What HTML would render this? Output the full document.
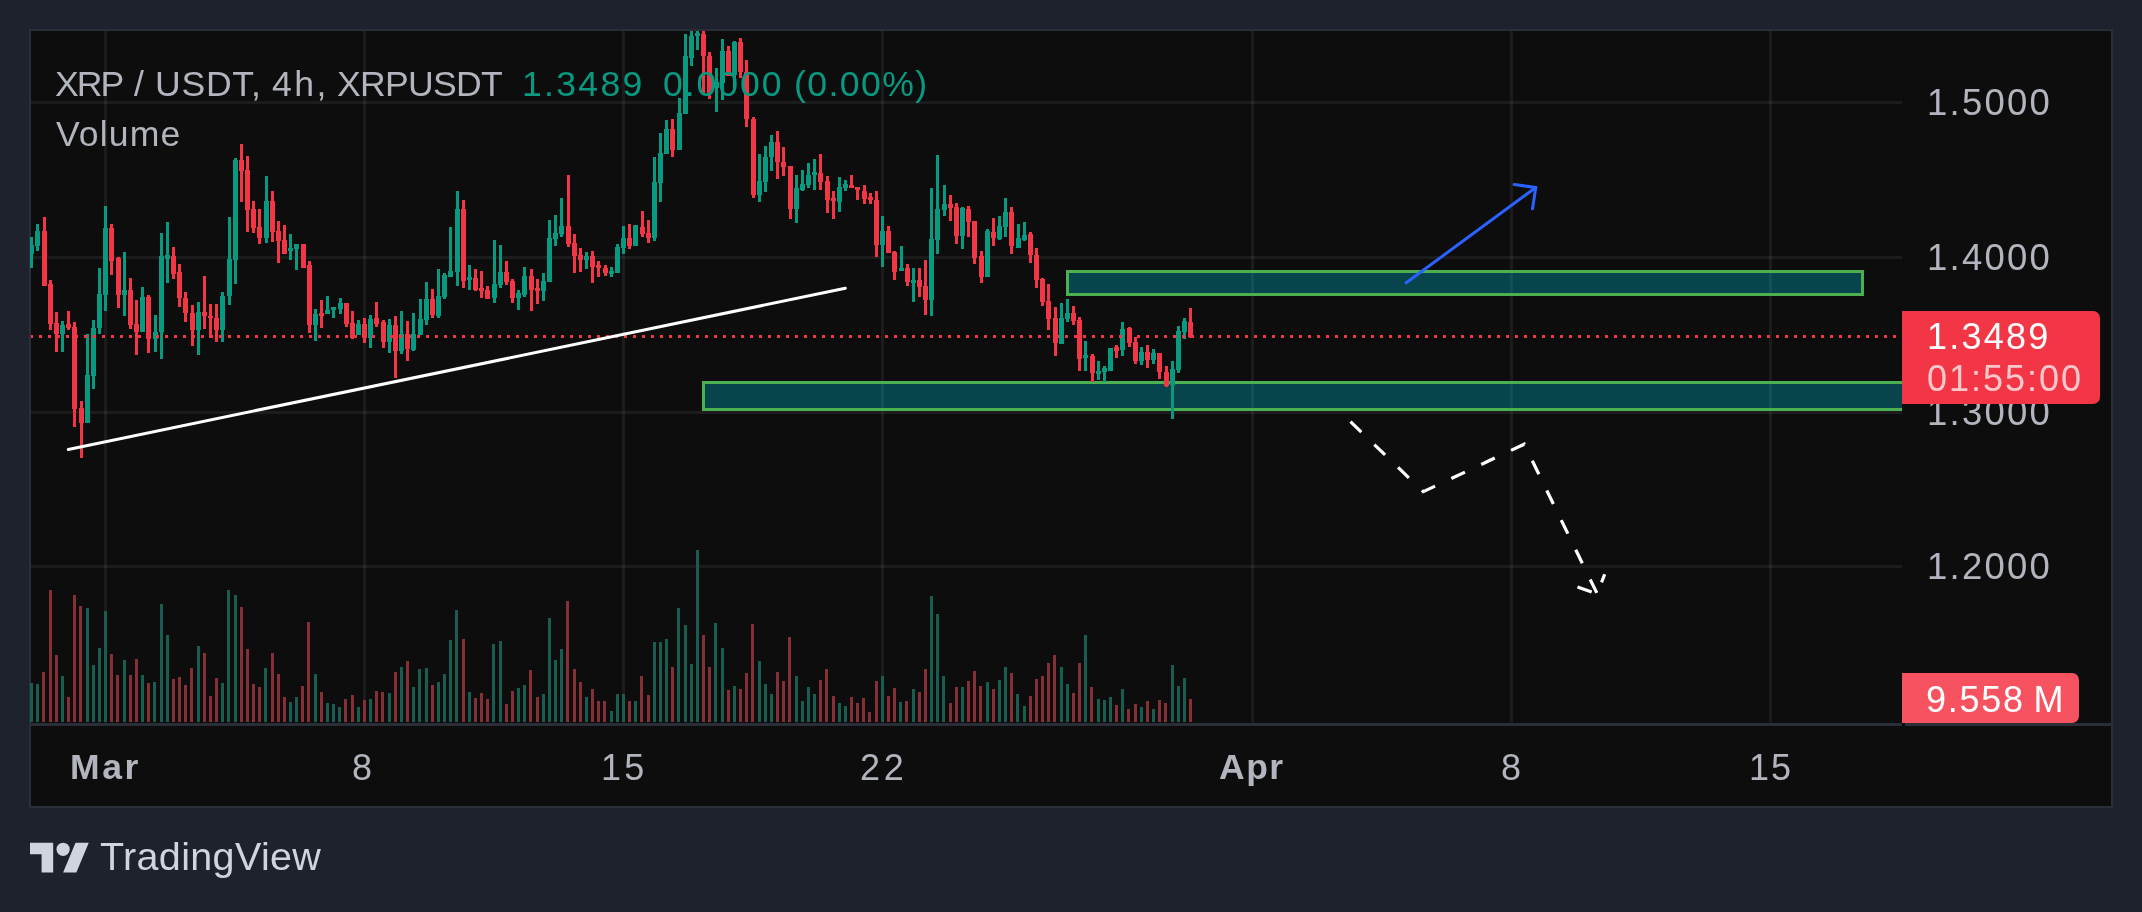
<!DOCTYPE html>
<html><head><meta charset="utf-8"><title>XRP / USDT chart</title>
<style>
html,body{margin:0;padding:0;background:#1e222d;}
body{width:2142px;height:912px;position:relative;overflow:hidden;font-family:"Liberation Sans",sans-serif;}
.frame{position:absolute;left:29px;top:29px;width:2084px;height:779px;background:#2a2e39;}
.chart{position:absolute;left:31px;top:31px;width:2080px;height:775px;background:#0d0d0d;overflow:hidden;}
svg{position:absolute;left:-31px;top:-31px;}
.t{position:absolute;white-space:pre;will-change:transform;line-height:1;color:#b2b5be;}
.sep{position:absolute;left:31px;top:722.5px;width:2081px;height:3px;background:#2a2e39;}
.plabel{position:absolute;left:1902px;top:311px;width:198px;height:93px;background:#f23645;border-radius:0 7px 7px 0;}
.vlabel{position:absolute;left:1902px;top:673px;width:177px;height:50px;background:#f7525f;border-radius:0 7px 7px 0;}
</style></head><body>
<div class="frame"></div>
<div class="chart"><svg width="2142" height="912" viewBox="0 0 2142 912" shape-rendering="auto">
<rect x="104.0" y="31" width="3" height="691.5" fill="rgba(235,250,242,0.062)"/>
<rect x="363.0" y="31" width="3" height="691.5" fill="rgba(235,250,242,0.062)"/>
<rect x="622.0" y="31" width="3" height="691.5" fill="rgba(235,250,242,0.062)"/>
<rect x="881.0" y="31" width="3" height="691.5" fill="rgba(235,250,242,0.062)"/>
<rect x="1251.0" y="31" width="3" height="691.5" fill="rgba(235,250,242,0.062)"/>
<rect x="1510.0" y="31" width="3" height="691.5" fill="rgba(235,250,242,0.062)"/>
<rect x="1769.0" y="31" width="3" height="691.5" fill="rgba(235,250,242,0.062)"/>
<rect x="31" y="101.0" width="1871" height="3" fill="rgba(235,250,242,0.062)"/>
<rect x="31" y="256.0" width="1871" height="3" fill="rgba(235,250,242,0.062)"/>
<rect x="31" y="411.0" width="1871" height="3" fill="rgba(235,250,242,0.062)"/>
<rect x="31" y="565.0" width="1871" height="3" fill="rgba(235,250,242,0.062)"/>
<rect x="1066" y="270" width="798" height="26" fill="rgba(0,188,212,0.32)"/>
<rect x="1067.5" y="271.5" width="795" height="23" fill="none" stroke="#4caf50" stroke-width="3"/>
<rect x="702" y="381" width="1200" height="30" fill="rgba(0,188,212,0.32)"/>
<path d="M1902 382.5 H703.5 V409.5 H1902" fill="none" stroke="#4caf50" stroke-width="3"/>
<rect x="30.00" y="683" width="3" height="39" fill="#195d50"/>
<rect x="36.00" y="684" width="3" height="38" fill="#195d50"/>
<rect x="42.00" y="672" width="3" height="50" fill="#853037"/>
<rect x="49.00" y="590" width="3" height="132" fill="#853037"/>
<rect x="55.00" y="655" width="3" height="67" fill="#853037"/>
<rect x="61.00" y="676" width="3" height="46" fill="#195d50"/>
<rect x="67.00" y="697" width="3" height="25" fill="#853037"/>
<rect x="73.00" y="595" width="3" height="127" fill="#853037"/>
<rect x="79.00" y="606" width="3" height="116" fill="#853037"/>
<rect x="86.00" y="608" width="3" height="114" fill="#195d50"/>
<rect x="92.00" y="665" width="3" height="57" fill="#195d50"/>
<rect x="98.00" y="648" width="3" height="74" fill="#195d50"/>
<rect x="104.00" y="611" width="3" height="111" fill="#195d50"/>
<rect x="110.00" y="654" width="3" height="68" fill="#853037"/>
<rect x="116.00" y="675" width="3" height="47" fill="#853037"/>
<rect x="123.00" y="660" width="3" height="62" fill="#195d50"/>
<rect x="129.00" y="675" width="3" height="47" fill="#853037"/>
<rect x="135.00" y="659" width="3" height="63" fill="#853037"/>
<rect x="141.00" y="675" width="3" height="47" fill="#195d50"/>
<rect x="147.00" y="683" width="3" height="39" fill="#853037"/>
<rect x="153.00" y="682" width="3" height="40" fill="#195d50"/>
<rect x="160.00" y="604" width="3" height="118" fill="#195d50"/>
<rect x="166.00" y="635" width="3" height="87" fill="#195d50"/>
<rect x="172.00" y="679" width="3" height="43" fill="#853037"/>
<rect x="178.00" y="677" width="3" height="45" fill="#853037"/>
<rect x="184.00" y="685" width="3" height="37" fill="#853037"/>
<rect x="190.00" y="668" width="3" height="54" fill="#853037"/>
<rect x="197.00" y="646" width="3" height="76" fill="#195d50"/>
<rect x="203.00" y="653" width="3" height="69" fill="#853037"/>
<rect x="209.00" y="696" width="3" height="26" fill="#853037"/>
<rect x="215.00" y="678" width="3" height="44" fill="#853037"/>
<rect x="221.00" y="683" width="3" height="39" fill="#195d50"/>
<rect x="227.00" y="590" width="3" height="132" fill="#195d50"/>
<rect x="234.00" y="595" width="3" height="127" fill="#195d50"/>
<rect x="240.00" y="607" width="3" height="115" fill="#853037"/>
<rect x="246.00" y="649" width="3" height="73" fill="#853037"/>
<rect x="252.00" y="684" width="3" height="38" fill="#853037"/>
<rect x="258.00" y="687" width="3" height="35" fill="#853037"/>
<rect x="264.00" y="668" width="3" height="54" fill="#195d50"/>
<rect x="271.00" y="653" width="3" height="69" fill="#853037"/>
<rect x="277.00" y="674" width="3" height="48" fill="#853037"/>
<rect x="283.00" y="697" width="3" height="25" fill="#853037"/>
<rect x="289.00" y="702" width="3" height="20" fill="#195d50"/>
<rect x="295.00" y="697" width="3" height="25" fill="#195d50"/>
<rect x="301.00" y="686" width="3" height="36" fill="#853037"/>
<rect x="307.00" y="622" width="3" height="100" fill="#853037"/>
<rect x="314.00" y="674" width="3" height="48" fill="#195d50"/>
<rect x="320.00" y="692" width="3" height="30" fill="#853037"/>
<rect x="326.00" y="703" width="3" height="19" fill="#195d50"/>
<rect x="332.00" y="704" width="3" height="18" fill="#195d50"/>
<rect x="338.00" y="707" width="3" height="15" fill="#195d50"/>
<rect x="344.00" y="699" width="3" height="23" fill="#853037"/>
<rect x="351.00" y="695" width="3" height="27" fill="#853037"/>
<rect x="357.00" y="707" width="3" height="15" fill="#195d50"/>
<rect x="363.00" y="700" width="3" height="22" fill="#853037"/>
<rect x="369.00" y="699" width="3" height="23" fill="#195d50"/>
<rect x="375.00" y="691" width="3" height="31" fill="#853037"/>
<rect x="381.00" y="692" width="3" height="30" fill="#853037"/>
<rect x="388.00" y="693" width="3" height="29" fill="#195d50"/>
<rect x="394.00" y="672" width="3" height="50" fill="#853037"/>
<rect x="400.00" y="667" width="3" height="55" fill="#195d50"/>
<rect x="406.00" y="661" width="3" height="61" fill="#853037"/>
<rect x="412.00" y="687" width="3" height="35" fill="#195d50"/>
<rect x="418.00" y="669" width="3" height="53" fill="#195d50"/>
<rect x="425.00" y="668" width="3" height="54" fill="#195d50"/>
<rect x="431.00" y="685" width="3" height="37" fill="#853037"/>
<rect x="437.00" y="682" width="3" height="40" fill="#195d50"/>
<rect x="443.00" y="674" width="3" height="48" fill="#195d50"/>
<rect x="449.00" y="640" width="3" height="82" fill="#195d50"/>
<rect x="455.00" y="610" width="3" height="112" fill="#195d50"/>
<rect x="462.00" y="639" width="3" height="83" fill="#853037"/>
<rect x="468.00" y="692" width="3" height="30" fill="#195d50"/>
<rect x="474.00" y="698" width="3" height="24" fill="#853037"/>
<rect x="480.00" y="693" width="3" height="29" fill="#853037"/>
<rect x="486.00" y="699" width="3" height="23" fill="#853037"/>
<rect x="492.00" y="644" width="3" height="78" fill="#195d50"/>
<rect x="499.00" y="641" width="3" height="81" fill="#195d50"/>
<rect x="505.00" y="704" width="3" height="18" fill="#853037"/>
<rect x="511.00" y="691" width="3" height="31" fill="#853037"/>
<rect x="517.00" y="688" width="3" height="34" fill="#195d50"/>
<rect x="523.00" y="685" width="3" height="37" fill="#195d50"/>
<rect x="529.00" y="670" width="3" height="52" fill="#853037"/>
<rect x="536.00" y="697" width="3" height="25" fill="#853037"/>
<rect x="542.00" y="694" width="3" height="28" fill="#195d50"/>
<rect x="548.00" y="618" width="3" height="104" fill="#195d50"/>
<rect x="554.00" y="660" width="3" height="62" fill="#195d50"/>
<rect x="560.00" y="649" width="3" height="73" fill="#195d50"/>
<rect x="566.00" y="601" width="3" height="121" fill="#853037"/>
<rect x="573.00" y="669" width="3" height="53" fill="#853037"/>
<rect x="579.00" y="682" width="3" height="40" fill="#853037"/>
<rect x="585.00" y="697" width="3" height="25" fill="#195d50"/>
<rect x="591.00" y="689" width="3" height="33" fill="#853037"/>
<rect x="597.00" y="701" width="3" height="21" fill="#853037"/>
<rect x="603.00" y="701" width="3" height="21" fill="#853037"/>
<rect x="610.00" y="711" width="3" height="11" fill="#195d50"/>
<rect x="616.00" y="694" width="3" height="28" fill="#195d50"/>
<rect x="622.00" y="694" width="3" height="28" fill="#195d50"/>
<rect x="628.00" y="701" width="3" height="21" fill="#853037"/>
<rect x="634.00" y="701" width="3" height="21" fill="#195d50"/>
<rect x="640.00" y="676" width="3" height="46" fill="#853037"/>
<rect x="647.00" y="695" width="3" height="27" fill="#853037"/>
<rect x="653.00" y="642" width="3" height="80" fill="#195d50"/>
<rect x="659.00" y="642" width="3" height="80" fill="#195d50"/>
<rect x="665.00" y="639" width="3" height="83" fill="#195d50"/>
<rect x="671.00" y="667" width="3" height="55" fill="#853037"/>
<rect x="677.00" y="608" width="3" height="114" fill="#195d50"/>
<rect x="684.00" y="625" width="3" height="97" fill="#195d50"/>
<rect x="690.00" y="664" width="3" height="58" fill="#195d50"/>
<rect x="696.00" y="550" width="3" height="172" fill="#195d50"/>
<rect x="702.00" y="635" width="3" height="87" fill="#853037"/>
<rect x="708.00" y="667" width="3" height="55" fill="#853037"/>
<rect x="714.00" y="623" width="3" height="99" fill="#195d50"/>
<rect x="721.00" y="648" width="3" height="74" fill="#195d50"/>
<rect x="727.00" y="690" width="3" height="32" fill="#853037"/>
<rect x="733.00" y="686" width="3" height="36" fill="#195d50"/>
<rect x="739.00" y="689" width="3" height="33" fill="#853037"/>
<rect x="745.00" y="673" width="3" height="49" fill="#853037"/>
<rect x="751.00" y="624" width="3" height="98" fill="#853037"/>
<rect x="758.00" y="661" width="3" height="61" fill="#195d50"/>
<rect x="764.00" y="684" width="3" height="38" fill="#195d50"/>
<rect x="770.00" y="694" width="3" height="28" fill="#195d50"/>
<rect x="776.00" y="672" width="3" height="50" fill="#853037"/>
<rect x="782.00" y="681" width="3" height="41" fill="#853037"/>
<rect x="788.00" y="637" width="3" height="85" fill="#853037"/>
<rect x="795.00" y="676" width="3" height="46" fill="#195d50"/>
<rect x="801.00" y="701" width="3" height="21" fill="#195d50"/>
<rect x="807.00" y="687" width="3" height="35" fill="#195d50"/>
<rect x="813.00" y="694" width="3" height="28" fill="#195d50"/>
<rect x="819.00" y="680" width="3" height="42" fill="#853037"/>
<rect x="825.00" y="669" width="3" height="53" fill="#853037"/>
<rect x="832.00" y="696" width="3" height="26" fill="#853037"/>
<rect x="838.00" y="703" width="3" height="19" fill="#195d50"/>
<rect x="844.00" y="706" width="3" height="16" fill="#195d50"/>
<rect x="850.00" y="697" width="3" height="25" fill="#853037"/>
<rect x="856.00" y="703" width="3" height="19" fill="#853037"/>
<rect x="862.00" y="698" width="3" height="24" fill="#853037"/>
<rect x="868.00" y="712" width="3" height="10" fill="#853037"/>
<rect x="875.00" y="681" width="3" height="41" fill="#853037"/>
<rect x="881.00" y="676" width="3" height="46" fill="#195d50"/>
<rect x="887.00" y="696" width="3" height="26" fill="#853037"/>
<rect x="893.00" y="688" width="3" height="34" fill="#853037"/>
<rect x="899.00" y="702" width="3" height="20" fill="#195d50"/>
<rect x="905.00" y="701" width="3" height="21" fill="#853037"/>
<rect x="912.00" y="689" width="3" height="33" fill="#195d50"/>
<rect x="918.00" y="692" width="3" height="30" fill="#853037"/>
<rect x="924.00" y="669" width="3" height="53" fill="#853037"/>
<rect x="930.00" y="596" width="3" height="126" fill="#195d50"/>
<rect x="936.00" y="614" width="3" height="108" fill="#195d50"/>
<rect x="942.00" y="676" width="3" height="46" fill="#195d50"/>
<rect x="949.00" y="703" width="3" height="19" fill="#853037"/>
<rect x="955.00" y="687" width="3" height="35" fill="#853037"/>
<rect x="961.00" y="687" width="3" height="35" fill="#195d50"/>
<rect x="967.00" y="681" width="3" height="41" fill="#853037"/>
<rect x="973.00" y="671" width="3" height="51" fill="#853037"/>
<rect x="979.00" y="686" width="3" height="36" fill="#853037"/>
<rect x="986.00" y="682" width="3" height="40" fill="#195d50"/>
<rect x="992.00" y="689" width="3" height="33" fill="#853037"/>
<rect x="998.00" y="680" width="3" height="42" fill="#195d50"/>
<rect x="1004.00" y="667" width="3" height="55" fill="#195d50"/>
<rect x="1010.00" y="673" width="3" height="49" fill="#853037"/>
<rect x="1016.00" y="694" width="3" height="28" fill="#195d50"/>
<rect x="1023.00" y="706" width="3" height="16" fill="#195d50"/>
<rect x="1029.00" y="696" width="3" height="26" fill="#853037"/>
<rect x="1035.00" y="679" width="3" height="43" fill="#853037"/>
<rect x="1041.00" y="676" width="3" height="46" fill="#853037"/>
<rect x="1047.00" y="663" width="3" height="59" fill="#853037"/>
<rect x="1053.00" y="655" width="3" height="67" fill="#853037"/>
<rect x="1060.00" y="667" width="3" height="55" fill="#195d50"/>
<rect x="1066.00" y="684" width="3" height="38" fill="#195d50"/>
<rect x="1072.00" y="693" width="3" height="29" fill="#853037"/>
<rect x="1078.00" y="663" width="3" height="59" fill="#853037"/>
<rect x="1084.00" y="635" width="3" height="87" fill="#195d50"/>
<rect x="1090.00" y="687" width="3" height="35" fill="#853037"/>
<rect x="1097.00" y="699" width="3" height="23" fill="#195d50"/>
<rect x="1103.00" y="700" width="3" height="22" fill="#195d50"/>
<rect x="1109.00" y="697" width="3" height="25" fill="#195d50"/>
<rect x="1115.00" y="705" width="3" height="17" fill="#853037"/>
<rect x="1121.00" y="689" width="3" height="33" fill="#195d50"/>
<rect x="1127.00" y="709" width="3" height="13" fill="#853037"/>
<rect x="1134.00" y="704" width="3" height="18" fill="#853037"/>
<rect x="1140.00" y="707" width="3" height="15" fill="#195d50"/>
<rect x="1146.00" y="701" width="3" height="21" fill="#853037"/>
<rect x="1152.00" y="709" width="3" height="13" fill="#195d50"/>
<rect x="1158.00" y="700" width="3" height="22" fill="#853037"/>
<rect x="1164.00" y="703" width="3" height="19" fill="#853037"/>
<rect x="1171.00" y="665" width="3" height="57" fill="#195d50"/>
<rect x="1177.00" y="686" width="3" height="36" fill="#195d50"/>
<rect x="1183.00" y="678" width="3" height="44" fill="#195d50"/>
<rect x="1189.00" y="699" width="3" height="23" fill="#853037"/>
<rect x="30.00" y="237.0" width="3" height="31.0" fill="#089981"/>
<rect x="29.00" y="245.0" width="5" height="9.0" fill="#089981"/>
<rect x="36.00" y="224.0" width="3" height="27.0" fill="#089981"/>
<rect x="35.00" y="231.0" width="5" height="15.0" fill="#089981"/>
<rect x="43.00" y="217.0" width="3" height="69.0" fill="#f23645"/>
<rect x="42.00" y="231.0" width="5" height="55.0" fill="#f23645"/>
<rect x="49.00" y="280.0" width="3" height="50.0" fill="#f23645"/>
<rect x="48.00" y="284.0" width="5" height="40.0" fill="#f23645"/>
<rect x="55.00" y="312.0" width="3" height="40.0" fill="#f23645"/>
<rect x="54.00" y="323.0" width="5" height="11.0" fill="#f23645"/>
<rect x="61.00" y="321.0" width="3" height="31.0" fill="#089981"/>
<rect x="60.00" y="325.0" width="5" height="9.0" fill="#089981"/>
<rect x="67.00" y="311.0" width="3" height="19.0" fill="#f23645"/>
<rect x="66.00" y="324.0" width="5" height="4.0" fill="#f23645"/>
<rect x="73.00" y="322.0" width="3" height="105.0" fill="#f23645"/>
<rect x="72.00" y="327.0" width="5" height="82.0" fill="#f23645"/>
<rect x="80.00" y="401.0" width="3" height="57.0" fill="#f23645"/>
<rect x="79.00" y="408.0" width="5" height="15.0" fill="#f23645"/>
<rect x="86.00" y="334.0" width="3" height="89.0" fill="#089981"/>
<rect x="85.00" y="375.0" width="5" height="48.0" fill="#089981"/>
<rect x="92.00" y="320.0" width="3" height="69.0" fill="#089981"/>
<rect x="91.00" y="328.0" width="5" height="48.0" fill="#089981"/>
<rect x="98.00" y="268.0" width="3" height="66.0" fill="#089981"/>
<rect x="97.00" y="294.0" width="5" height="34.0" fill="#089981"/>
<rect x="104.00" y="206.0" width="3" height="105.0" fill="#089981"/>
<rect x="103.00" y="228.0" width="5" height="67.0" fill="#089981"/>
<rect x="110.00" y="224.0" width="3" height="51.0" fill="#f23645"/>
<rect x="109.00" y="228.0" width="5" height="33.0" fill="#f23645"/>
<rect x="117.00" y="257.0" width="3" height="51.0" fill="#f23645"/>
<rect x="116.00" y="258.0" width="5" height="37.0" fill="#f23645"/>
<rect x="123.00" y="252.0" width="3" height="64.0" fill="#089981"/>
<rect x="122.00" y="290.0" width="5" height="5.0" fill="#089981"/>
<rect x="129.00" y="278.0" width="3" height="51.0" fill="#f23645"/>
<rect x="128.00" y="290.0" width="5" height="35.0" fill="#f23645"/>
<rect x="135.00" y="300.0" width="3" height="55.0" fill="#f23645"/>
<rect x="134.00" y="324.0" width="5" height="8.0" fill="#f23645"/>
<rect x="141.00" y="287.0" width="3" height="45.0" fill="#089981"/>
<rect x="140.00" y="297.0" width="5" height="35.0" fill="#089981"/>
<rect x="147.00" y="295.0" width="3" height="58.0" fill="#f23645"/>
<rect x="146.00" y="297.0" width="5" height="42.0" fill="#f23645"/>
<rect x="154.00" y="315.0" width="3" height="37.0" fill="#089981"/>
<rect x="153.00" y="332.0" width="5" height="7.0" fill="#089981"/>
<rect x="160.00" y="233.0" width="3" height="126.0" fill="#089981"/>
<rect x="159.00" y="256.0" width="5" height="76.0" fill="#089981"/>
<rect x="166.00" y="222.0" width="3" height="61.0" fill="#089981"/>
<rect x="165.00" y="255.0" width="5" height="4.0" fill="#089981"/>
<rect x="172.00" y="247.0" width="3" height="32.0" fill="#f23645"/>
<rect x="171.00" y="256.0" width="5" height="18.0" fill="#f23645"/>
<rect x="178.00" y="264.0" width="3" height="43.0" fill="#f23645"/>
<rect x="177.00" y="272.0" width="5" height="26.0" fill="#f23645"/>
<rect x="184.00" y="292.0" width="3" height="30.0" fill="#f23645"/>
<rect x="183.00" y="298.0" width="5" height="15.0" fill="#f23645"/>
<rect x="191.00" y="305.0" width="3" height="41.0" fill="#f23645"/>
<rect x="190.00" y="313.0" width="5" height="17.0" fill="#f23645"/>
<rect x="197.00" y="302.0" width="3" height="53.0" fill="#089981"/>
<rect x="196.00" y="312.0" width="5" height="18.0" fill="#089981"/>
<rect x="203.00" y="276.0" width="3" height="53.0" fill="#f23645"/>
<rect x="202.00" y="312.0" width="5" height="4.0" fill="#f23645"/>
<rect x="209.00" y="304.0" width="3" height="34.0" fill="#f23645"/>
<rect x="208.00" y="316.0" width="5" height="2.0" fill="#f23645"/>
<rect x="215.00" y="304.0" width="3" height="38.0" fill="#f23645"/>
<rect x="214.00" y="318.0" width="5" height="12.0" fill="#f23645"/>
<rect x="221.00" y="292.0" width="3" height="50.0" fill="#089981"/>
<rect x="220.00" y="296.0" width="5" height="34.0" fill="#089981"/>
<rect x="228.00" y="217.0" width="3" height="88.0" fill="#089981"/>
<rect x="227.00" y="259.0" width="5" height="37.0" fill="#089981"/>
<rect x="234.00" y="158.0" width="3" height="126.0" fill="#089981"/>
<rect x="233.00" y="160.0" width="5" height="100.0" fill="#089981"/>
<rect x="240.00" y="144.0" width="3" height="58.0" fill="#f23645"/>
<rect x="239.00" y="160.0" width="5" height="11.0" fill="#f23645"/>
<rect x="246.00" y="156.0" width="3" height="76.0" fill="#f23645"/>
<rect x="245.00" y="170.0" width="5" height="40.0" fill="#f23645"/>
<rect x="252.00" y="201.0" width="3" height="32.0" fill="#f23645"/>
<rect x="251.00" y="209.0" width="5" height="19.0" fill="#f23645"/>
<rect x="258.00" y="209.0" width="3" height="35.0" fill="#f23645"/>
<rect x="257.00" y="227.0" width="5" height="11.0" fill="#f23645"/>
<rect x="265.00" y="176.0" width="3" height="67.0" fill="#089981"/>
<rect x="264.00" y="201.0" width="5" height="37.0" fill="#089981"/>
<rect x="271.00" y="191.0" width="3" height="51.0" fill="#f23645"/>
<rect x="270.00" y="201.0" width="5" height="31.0" fill="#f23645"/>
<rect x="277.00" y="221.0" width="3" height="42.0" fill="#f23645"/>
<rect x="276.00" y="231.0" width="5" height="10.0" fill="#f23645"/>
<rect x="283.00" y="225.0" width="3" height="29.0" fill="#f23645"/>
<rect x="282.00" y="240.0" width="5" height="14.0" fill="#f23645"/>
<rect x="289.00" y="234.0" width="3" height="26.0" fill="#089981"/>
<rect x="288.00" y="248.0" width="5" height="3.0" fill="#089981"/>
<rect x="295.00" y="244.0" width="3" height="26.0" fill="#089981"/>
<rect x="294.00" y="244.0" width="5" height="5.0" fill="#089981"/>
<rect x="302.00" y="244.0" width="3" height="24.0" fill="#f23645"/>
<rect x="301.00" y="244.0" width="5" height="24.0" fill="#f23645"/>
<rect x="308.00" y="261.0" width="3" height="72.0" fill="#f23645"/>
<rect x="307.00" y="265.0" width="5" height="60.0" fill="#f23645"/>
<rect x="314.00" y="309.0" width="3" height="32.0" fill="#089981"/>
<rect x="313.00" y="314.0" width="5" height="11.0" fill="#089981"/>
<rect x="320.00" y="300.0" width="3" height="28.0" fill="#f23645"/>
<rect x="319.00" y="313.0" width="5" height="3.0" fill="#f23645"/>
<rect x="326.00" y="296.0" width="3" height="18.0" fill="#089981"/>
<rect x="325.00" y="310.0" width="5" height="4.0" fill="#089981"/>
<rect x="332.00" y="307.0" width="3" height="11.0" fill="#089981"/>
<rect x="331.00" y="307.0" width="5" height="3.0" fill="#089981"/>
<rect x="339.00" y="298.0" width="3" height="16.0" fill="#089981"/>
<rect x="338.00" y="303.0" width="5" height="6.0" fill="#089981"/>
<rect x="345.00" y="303.0" width="3" height="24.0" fill="#f23645"/>
<rect x="344.00" y="303.0" width="5" height="21.0" fill="#f23645"/>
<rect x="351.00" y="311.0" width="3" height="28.0" fill="#f23645"/>
<rect x="350.00" y="323.0" width="5" height="15.0" fill="#f23645"/>
<rect x="357.00" y="320.0" width="3" height="15.0" fill="#089981"/>
<rect x="356.00" y="324.0" width="5" height="11.0" fill="#089981"/>
<rect x="363.00" y="318.0" width="3" height="25.0" fill="#f23645"/>
<rect x="362.00" y="324.0" width="5" height="14.0" fill="#f23645"/>
<rect x="369.00" y="315.0" width="3" height="33.0" fill="#089981"/>
<rect x="368.00" y="319.0" width="5" height="19.0" fill="#089981"/>
<rect x="375.00" y="302.0" width="3" height="25.0" fill="#f23645"/>
<rect x="374.00" y="318.0" width="5" height="6.0" fill="#f23645"/>
<rect x="382.00" y="320.0" width="3" height="28.0" fill="#f23645"/>
<rect x="381.00" y="322.0" width="5" height="20.0" fill="#f23645"/>
<rect x="388.00" y="319.0" width="3" height="34.0" fill="#089981"/>
<rect x="387.00" y="325.0" width="5" height="17.0" fill="#089981"/>
<rect x="394.00" y="316.0" width="3" height="62.0" fill="#f23645"/>
<rect x="393.00" y="325.0" width="5" height="26.0" fill="#f23645"/>
<rect x="400.00" y="311.0" width="3" height="43.0" fill="#089981"/>
<rect x="399.00" y="334.0" width="5" height="17.0" fill="#089981"/>
<rect x="406.00" y="321.0" width="3" height="40.0" fill="#f23645"/>
<rect x="405.00" y="334.0" width="5" height="15.0" fill="#f23645"/>
<rect x="412.00" y="313.0" width="3" height="38.0" fill="#089981"/>
<rect x="411.00" y="334.0" width="5" height="16.0" fill="#089981"/>
<rect x="419.00" y="299.0" width="3" height="36.0" fill="#089981"/>
<rect x="418.00" y="319.0" width="5" height="16.0" fill="#089981"/>
<rect x="425.00" y="282.0" width="3" height="43.0" fill="#089981"/>
<rect x="424.00" y="299.0" width="5" height="21.0" fill="#089981"/>
<rect x="431.00" y="289.0" width="3" height="29.0" fill="#f23645"/>
<rect x="430.00" y="299.0" width="5" height="16.0" fill="#f23645"/>
<rect x="437.00" y="269.0" width="3" height="49.0" fill="#089981"/>
<rect x="436.00" y="296.0" width="5" height="20.0" fill="#089981"/>
<rect x="443.00" y="273.0" width="3" height="26.0" fill="#089981"/>
<rect x="442.00" y="275.0" width="5" height="22.0" fill="#089981"/>
<rect x="449.00" y="227.0" width="3" height="50.0" fill="#089981"/>
<rect x="448.00" y="271.0" width="5" height="6.0" fill="#089981"/>
<rect x="456.00" y="191.0" width="3" height="95.0" fill="#089981"/>
<rect x="455.00" y="209.0" width="5" height="63.0" fill="#089981"/>
<rect x="462.00" y="200.0" width="3" height="88.0" fill="#f23645"/>
<rect x="461.00" y="209.0" width="5" height="72.0" fill="#f23645"/>
<rect x="468.00" y="265.0" width="3" height="25.0" fill="#089981"/>
<rect x="467.00" y="277.0" width="5" height="3.0" fill="#089981"/>
<rect x="474.00" y="269.0" width="3" height="22.0" fill="#f23645"/>
<rect x="473.00" y="278.0" width="5" height="12.0" fill="#f23645"/>
<rect x="480.00" y="271.0" width="3" height="27.0" fill="#f23645"/>
<rect x="479.00" y="288.0" width="5" height="3.0" fill="#f23645"/>
<rect x="486.00" y="286.0" width="3" height="13.0" fill="#f23645"/>
<rect x="485.00" y="290.0" width="5" height="9.0" fill="#f23645"/>
<rect x="493.00" y="240.0" width="3" height="63.0" fill="#089981"/>
<rect x="492.00" y="284.0" width="5" height="14.0" fill="#089981"/>
<rect x="499.00" y="245.0" width="3" height="43.0" fill="#089981"/>
<rect x="498.00" y="272.0" width="5" height="13.0" fill="#089981"/>
<rect x="505.00" y="261.0" width="3" height="24.0" fill="#f23645"/>
<rect x="504.00" y="272.0" width="5" height="10.0" fill="#f23645"/>
<rect x="511.00" y="279.0" width="3" height="24.0" fill="#f23645"/>
<rect x="510.00" y="281.0" width="5" height="17.0" fill="#f23645"/>
<rect x="517.00" y="290.0" width="3" height="20.0" fill="#089981"/>
<rect x="516.00" y="293.0" width="5" height="5.0" fill="#089981"/>
<rect x="523.00" y="267.0" width="3" height="30.0" fill="#089981"/>
<rect x="522.00" y="276.0" width="5" height="19.0" fill="#089981"/>
<rect x="530.00" y="269.0" width="3" height="42.0" fill="#f23645"/>
<rect x="529.00" y="276.0" width="5" height="14.0" fill="#f23645"/>
<rect x="536.00" y="279.0" width="3" height="25.0" fill="#f23645"/>
<rect x="535.00" y="288.0" width="5" height="3.0" fill="#f23645"/>
<rect x="542.00" y="273.0" width="3" height="28.0" fill="#089981"/>
<rect x="541.00" y="281.0" width="5" height="10.0" fill="#089981"/>
<rect x="548.00" y="220.0" width="3" height="62.0" fill="#089981"/>
<rect x="547.00" y="238.0" width="5" height="44.0" fill="#089981"/>
<rect x="554.00" y="215.0" width="3" height="31.0" fill="#089981"/>
<rect x="553.00" y="233.0" width="5" height="6.0" fill="#089981"/>
<rect x="560.00" y="198.0" width="3" height="39.0" fill="#089981"/>
<rect x="559.00" y="226.0" width="5" height="8.0" fill="#089981"/>
<rect x="567.00" y="175.0" width="3" height="72.0" fill="#f23645"/>
<rect x="566.00" y="226.0" width="5" height="18.0" fill="#f23645"/>
<rect x="573.00" y="234.0" width="3" height="39.0" fill="#f23645"/>
<rect x="572.00" y="243.0" width="5" height="13.0" fill="#f23645"/>
<rect x="579.00" y="248.0" width="3" height="24.0" fill="#f23645"/>
<rect x="578.00" y="255.0" width="5" height="5.0" fill="#f23645"/>
<rect x="585.00" y="252.0" width="3" height="17.0" fill="#089981"/>
<rect x="584.00" y="256.0" width="5" height="4.0" fill="#089981"/>
<rect x="591.00" y="251.0" width="3" height="32.0" fill="#f23645"/>
<rect x="590.00" y="256.0" width="5" height="11.0" fill="#f23645"/>
<rect x="597.00" y="261.0" width="3" height="16.0" fill="#f23645"/>
<rect x="596.00" y="265.0" width="5" height="3.0" fill="#f23645"/>
<rect x="604.00" y="265.0" width="3" height="11.0" fill="#f23645"/>
<rect x="603.00" y="268.0" width="5" height="5.0" fill="#f23645"/>
<rect x="610.00" y="267.0" width="3" height="10.0" fill="#089981"/>
<rect x="609.00" y="271.0" width="5" height="3.0" fill="#089981"/>
<rect x="616.00" y="244.0" width="3" height="29.0" fill="#089981"/>
<rect x="615.00" y="247.0" width="5" height="26.0" fill="#089981"/>
<rect x="622.00" y="226.0" width="3" height="28.0" fill="#089981"/>
<rect x="621.00" y="238.0" width="5" height="10.0" fill="#089981"/>
<rect x="628.00" y="224.0" width="3" height="25.0" fill="#f23645"/>
<rect x="627.00" y="238.0" width="5" height="8.0" fill="#f23645"/>
<rect x="634.00" y="225.0" width="3" height="21.0" fill="#089981"/>
<rect x="633.00" y="225.0" width="5" height="21.0" fill="#089981"/>
<rect x="641.00" y="211.0" width="3" height="26.0" fill="#f23645"/>
<rect x="640.00" y="227.0" width="5" height="7.0" fill="#f23645"/>
<rect x="647.00" y="220.0" width="3" height="23.0" fill="#f23645"/>
<rect x="646.00" y="233.0" width="5" height="5.0" fill="#f23645"/>
<rect x="653.00" y="157.0" width="3" height="84.0" fill="#089981"/>
<rect x="652.00" y="182.0" width="5" height="56.0" fill="#089981"/>
<rect x="659.00" y="133.0" width="3" height="69.0" fill="#089981"/>
<rect x="658.00" y="153.0" width="5" height="30.0" fill="#089981"/>
<rect x="665.00" y="120.0" width="3" height="34.0" fill="#089981"/>
<rect x="664.00" y="129.0" width="5" height="25.0" fill="#089981"/>
<rect x="671.00" y="119.0" width="3" height="38.0" fill="#f23645"/>
<rect x="670.00" y="129.0" width="5" height="21.0" fill="#f23645"/>
<rect x="678.00" y="98.0" width="3" height="52.0" fill="#089981"/>
<rect x="677.00" y="113.0" width="5" height="37.0" fill="#089981"/>
<rect x="684.00" y="34.0" width="3" height="80.0" fill="#089981"/>
<rect x="683.00" y="56.0" width="5" height="58.0" fill="#089981"/>
<rect x="690.00" y="30.0" width="3" height="36.0" fill="#089981"/>
<rect x="689.00" y="36.0" width="5" height="22.0" fill="#089981"/>
<rect x="696.00" y="30.0" width="3" height="20.0" fill="#089981"/>
<rect x="695.00" y="33.0" width="5" height="3.0" fill="#089981"/>
<rect x="702.00" y="30.0" width="3" height="64.0" fill="#f23645"/>
<rect x="701.00" y="34.0" width="5" height="22.0" fill="#f23645"/>
<rect x="708.00" y="52.0" width="3" height="47.0" fill="#f23645"/>
<rect x="707.00" y="56.0" width="5" height="38.0" fill="#f23645"/>
<rect x="715.00" y="68.0" width="3" height="44.0" fill="#089981"/>
<rect x="714.00" y="82.0" width="5" height="6.0" fill="#089981"/>
<rect x="721.00" y="39.0" width="3" height="61.0" fill="#089981"/>
<rect x="720.00" y="51.0" width="5" height="32.0" fill="#089981"/>
<rect x="727.00" y="46.0" width="3" height="30.0" fill="#f23645"/>
<rect x="726.00" y="51.0" width="5" height="25.0" fill="#f23645"/>
<rect x="733.00" y="41.0" width="3" height="47.0" fill="#089981"/>
<rect x="732.00" y="42.0" width="5" height="33.0" fill="#089981"/>
<rect x="739.00" y="38.0" width="3" height="40.0" fill="#f23645"/>
<rect x="738.00" y="42.0" width="5" height="30.0" fill="#f23645"/>
<rect x="745.00" y="60.0" width="3" height="67.0" fill="#f23645"/>
<rect x="744.00" y="72.0" width="5" height="47.0" fill="#f23645"/>
<rect x="752.00" y="117.0" width="3" height="81.0" fill="#f23645"/>
<rect x="751.00" y="119.0" width="5" height="76.0" fill="#f23645"/>
<rect x="758.00" y="154.0" width="3" height="48.0" fill="#089981"/>
<rect x="757.00" y="181.0" width="5" height="14.0" fill="#089981"/>
<rect x="764.00" y="146.0" width="3" height="46.0" fill="#089981"/>
<rect x="763.00" y="157.0" width="5" height="25.0" fill="#089981"/>
<rect x="770.00" y="135.0" width="3" height="36.0" fill="#089981"/>
<rect x="769.00" y="142.0" width="5" height="15.0" fill="#089981"/>
<rect x="776.00" y="131.0" width="3" height="48.0" fill="#f23645"/>
<rect x="775.00" y="142.0" width="5" height="20.0" fill="#f23645"/>
<rect x="782.00" y="147.0" width="3" height="29.0" fill="#f23645"/>
<rect x="781.00" y="162.0" width="5" height="5.0" fill="#f23645"/>
<rect x="789.00" y="166.0" width="3" height="53.0" fill="#f23645"/>
<rect x="788.00" y="166.0" width="5" height="43.0" fill="#f23645"/>
<rect x="795.00" y="175.0" width="3" height="48.0" fill="#089981"/>
<rect x="794.00" y="188.0" width="5" height="21.0" fill="#089981"/>
<rect x="801.00" y="170.0" width="3" height="21.0" fill="#089981"/>
<rect x="800.00" y="184.0" width="5" height="6.0" fill="#089981"/>
<rect x="807.00" y="163.0" width="3" height="25.0" fill="#089981"/>
<rect x="806.00" y="175.0" width="5" height="10.0" fill="#089981"/>
<rect x="813.00" y="159.0" width="3" height="31.0" fill="#089981"/>
<rect x="812.00" y="172.0" width="5" height="3.0" fill="#089981"/>
<rect x="819.00" y="154.0" width="3" height="36.0" fill="#f23645"/>
<rect x="818.00" y="173.0" width="5" height="9.0" fill="#f23645"/>
<rect x="826.00" y="176.0" width="3" height="37.0" fill="#f23645"/>
<rect x="825.00" y="181.0" width="5" height="19.0" fill="#f23645"/>
<rect x="832.00" y="191.0" width="3" height="28.0" fill="#f23645"/>
<rect x="831.00" y="198.0" width="5" height="3.0" fill="#f23645"/>
<rect x="838.00" y="177.0" width="3" height="35.0" fill="#089981"/>
<rect x="837.00" y="187.0" width="5" height="15.0" fill="#089981"/>
<rect x="844.00" y="180.0" width="3" height="11.0" fill="#089981"/>
<rect x="843.00" y="184.0" width="5" height="4.0" fill="#089981"/>
<rect x="850.00" y="175.0" width="3" height="13.0" fill="#f23645"/>
<rect x="849.00" y="185.0" width="5" height="3.0" fill="#f23645"/>
<rect x="856.00" y="187.0" width="3" height="13.0" fill="#f23645"/>
<rect x="855.00" y="187.0" width="5" height="3.0" fill="#f23645"/>
<rect x="863.00" y="185.0" width="3" height="19.0" fill="#f23645"/>
<rect x="862.00" y="191.0" width="5" height="8.0" fill="#f23645"/>
<rect x="869.00" y="193.0" width="3" height="11.0" fill="#f23645"/>
<rect x="868.00" y="197.0" width="5" height="3.0" fill="#f23645"/>
<rect x="875.00" y="191.0" width="3" height="66.0" fill="#f23645"/>
<rect x="874.00" y="200.0" width="5" height="45.0" fill="#f23645"/>
<rect x="881.00" y="216.0" width="3" height="51.0" fill="#089981"/>
<rect x="880.00" y="231.0" width="5" height="14.0" fill="#089981"/>
<rect x="887.00" y="226.0" width="3" height="27.0" fill="#f23645"/>
<rect x="886.00" y="231.0" width="5" height="22.0" fill="#f23645"/>
<rect x="893.00" y="251.0" width="3" height="29.0" fill="#f23645"/>
<rect x="892.00" y="252.0" width="5" height="20.0" fill="#f23645"/>
<rect x="900.00" y="246.0" width="3" height="25.0" fill="#089981"/>
<rect x="899.00" y="268.0" width="5" height="3.0" fill="#089981"/>
<rect x="906.00" y="264.0" width="3" height="22.0" fill="#f23645"/>
<rect x="905.00" y="268.0" width="5" height="14.0" fill="#f23645"/>
<rect x="912.00" y="268.0" width="3" height="34.0" fill="#089981"/>
<rect x="911.00" y="280.0" width="5" height="3.0" fill="#089981"/>
<rect x="918.00" y="268.0" width="3" height="29.0" fill="#f23645"/>
<rect x="917.00" y="280.0" width="5" height="7.0" fill="#f23645"/>
<rect x="924.00" y="260.0" width="3" height="55.0" fill="#f23645"/>
<rect x="923.00" y="286.0" width="5" height="14.0" fill="#f23645"/>
<rect x="930.00" y="188.0" width="3" height="128.0" fill="#089981"/>
<rect x="929.00" y="239.0" width="5" height="61.0" fill="#089981"/>
<rect x="936.00" y="155.0" width="3" height="99.0" fill="#089981"/>
<rect x="935.00" y="209.0" width="5" height="31.0" fill="#089981"/>
<rect x="943.00" y="185.0" width="3" height="31.0" fill="#089981"/>
<rect x="942.00" y="204.0" width="5" height="6.0" fill="#089981"/>
<rect x="949.00" y="195.0" width="3" height="26.0" fill="#f23645"/>
<rect x="948.00" y="204.0" width="5" height="4.0" fill="#f23645"/>
<rect x="955.00" y="203.0" width="3" height="41.0" fill="#f23645"/>
<rect x="954.00" y="207.0" width="5" height="29.0" fill="#f23645"/>
<rect x="961.00" y="207.0" width="3" height="42.0" fill="#089981"/>
<rect x="960.00" y="208.0" width="5" height="28.0" fill="#089981"/>
<rect x="967.00" y="206.0" width="3" height="31.0" fill="#f23645"/>
<rect x="966.00" y="209.0" width="5" height="13.0" fill="#f23645"/>
<rect x="973.00" y="221.0" width="3" height="43.0" fill="#f23645"/>
<rect x="972.00" y="221.0" width="5" height="37.0" fill="#f23645"/>
<rect x="980.00" y="251.0" width="3" height="32.0" fill="#f23645"/>
<rect x="979.00" y="256.0" width="5" height="21.0" fill="#f23645"/>
<rect x="986.00" y="229.0" width="3" height="48.0" fill="#089981"/>
<rect x="985.00" y="231.0" width="5" height="46.0" fill="#089981"/>
<rect x="992.00" y="218.0" width="3" height="28.0" fill="#f23645"/>
<rect x="991.00" y="232.0" width="5" height="6.0" fill="#f23645"/>
<rect x="998.00" y="216.0" width="3" height="24.0" fill="#089981"/>
<rect x="997.00" y="226.0" width="5" height="13.0" fill="#089981"/>
<rect x="1004.00" y="198.0" width="3" height="39.0" fill="#089981"/>
<rect x="1003.00" y="212.0" width="5" height="15.0" fill="#089981"/>
<rect x="1010.00" y="207.0" width="3" height="47.0" fill="#f23645"/>
<rect x="1009.00" y="212.0" width="5" height="34.0" fill="#f23645"/>
<rect x="1017.00" y="224.0" width="3" height="24.0" fill="#089981"/>
<rect x="1016.00" y="238.0" width="5" height="10.0" fill="#089981"/>
<rect x="1023.00" y="222.0" width="3" height="19.0" fill="#089981"/>
<rect x="1022.00" y="235.0" width="5" height="5.0" fill="#089981"/>
<rect x="1029.00" y="232.0" width="3" height="31.0" fill="#f23645"/>
<rect x="1028.00" y="234.0" width="5" height="21.0" fill="#f23645"/>
<rect x="1035.00" y="248.0" width="3" height="40.0" fill="#f23645"/>
<rect x="1034.00" y="255.0" width="5" height="25.0" fill="#f23645"/>
<rect x="1041.00" y="278.0" width="3" height="28.0" fill="#f23645"/>
<rect x="1040.00" y="279.0" width="5" height="23.0" fill="#f23645"/>
<rect x="1047.00" y="284.0" width="3" height="46.0" fill="#f23645"/>
<rect x="1046.00" y="301.0" width="5" height="18.0" fill="#f23645"/>
<rect x="1054.00" y="307.0" width="3" height="49.0" fill="#f23645"/>
<rect x="1053.00" y="318.0" width="5" height="25.0" fill="#f23645"/>
<rect x="1060.00" y="303.0" width="3" height="41.0" fill="#089981"/>
<rect x="1059.00" y="318.0" width="5" height="26.0" fill="#089981"/>
<rect x="1066.00" y="299.0" width="3" height="23.0" fill="#089981"/>
<rect x="1065.00" y="313.0" width="5" height="6.0" fill="#089981"/>
<rect x="1072.00" y="306.0" width="3" height="19.0" fill="#f23645"/>
<rect x="1071.00" y="313.0" width="5" height="8.0" fill="#f23645"/>
<rect x="1078.00" y="317.0" width="3" height="54.0" fill="#f23645"/>
<rect x="1077.00" y="320.0" width="5" height="39.0" fill="#f23645"/>
<rect x="1084.00" y="341.0" width="3" height="30.0" fill="#089981"/>
<rect x="1083.00" y="355.0" width="5" height="3.0" fill="#089981"/>
<rect x="1091.00" y="354.0" width="3" height="28.0" fill="#f23645"/>
<rect x="1090.00" y="356.0" width="5" height="17.0" fill="#f23645"/>
<rect x="1097.00" y="361.0" width="3" height="19.0" fill="#089981"/>
<rect x="1096.00" y="371.0" width="5" height="3.0" fill="#089981"/>
<rect x="1103.00" y="366.0" width="3" height="16.0" fill="#089981"/>
<rect x="1102.00" y="368.0" width="5" height="4.0" fill="#089981"/>
<rect x="1109.00" y="348.0" width="3" height="23.0" fill="#089981"/>
<rect x="1108.00" y="348.0" width="5" height="23.0" fill="#089981"/>
<rect x="1115.00" y="345.0" width="3" height="13.0" fill="#f23645"/>
<rect x="1114.00" y="347.0" width="5" height="4.0" fill="#f23645"/>
<rect x="1121.00" y="322.0" width="3" height="34.0" fill="#089981"/>
<rect x="1120.00" y="329.0" width="5" height="21.0" fill="#089981"/>
<rect x="1128.00" y="327.0" width="3" height="20.0" fill="#f23645"/>
<rect x="1127.00" y="328.0" width="5" height="15.0" fill="#f23645"/>
<rect x="1134.00" y="337.0" width="3" height="27.0" fill="#f23645"/>
<rect x="1133.00" y="342.0" width="5" height="19.0" fill="#f23645"/>
<rect x="1140.00" y="347.0" width="3" height="18.0" fill="#089981"/>
<rect x="1139.00" y="352.0" width="5" height="9.0" fill="#089981"/>
<rect x="1146.00" y="345.0" width="3" height="23.0" fill="#f23645"/>
<rect x="1145.00" y="352.0" width="5" height="8.0" fill="#f23645"/>
<rect x="1152.00" y="349.0" width="3" height="15.0" fill="#089981"/>
<rect x="1151.00" y="353.0" width="5" height="7.0" fill="#089981"/>
<rect x="1158.00" y="353.0" width="3" height="26.0" fill="#f23645"/>
<rect x="1157.00" y="353.0" width="5" height="19.0" fill="#f23645"/>
<rect x="1165.00" y="366.0" width="3" height="21.0" fill="#f23645"/>
<rect x="1164.00" y="372.0" width="5" height="14.0" fill="#f23645"/>
<rect x="1171.00" y="361.0" width="3" height="58.0" fill="#089981"/>
<rect x="1170.00" y="369.0" width="5" height="16.0" fill="#089981"/>
<rect x="1177.00" y="326.0" width="3" height="47.0" fill="#089981"/>
<rect x="1176.00" y="331.0" width="5" height="39.0" fill="#089981"/>
<rect x="1183.00" y="318.0" width="3" height="21.0" fill="#089981"/>
<rect x="1182.00" y="321.0" width="5" height="11.0" fill="#089981"/>
<rect x="1189.00" y="308.0" width="3" height="30.0" fill="#f23645"/>
<rect x="1188.00" y="322.0" width="5" height="15.0" fill="#f23645"/>
<line x1="30" y1="336.5" x2="1902" y2="336.5" stroke="#f23645" stroke-width="3" stroke-dasharray="3 6"/>
<line x1="68.3" y1="449.5" x2="845.3" y2="288.2" stroke="#fff" stroke-width="3.1" stroke-linecap="round"/>
<g fill="none" stroke="#2962ff" stroke-width="3" stroke-linecap="round" stroke-linejoin="round"><path d="M1406.2 282.8 L1535.8 187.5"/><path d="M1514.2 184.5 L1535.8 187.5 L1532.5 208.8"/></g>
<g fill="none" stroke="#fff" stroke-width="3.2" stroke-dasharray="15 18" stroke-linejoin="miter"><path d="M1350.5 421.7 L1423.3 491.7 L1524.2 444.2 L1597.2 593.8"/><path d="M1577.5 587 L1597.2 593.8 L1604.7 574.2"/></g>
</svg></div>
<div style="position:absolute;left:30px;top:237px;width:1px;height:31px;background:#089981"></div><div style="position:absolute;left:30px;top:683px;width:1px;height:39px;background:#195d50"></div><div class="sep"></div><div style="position:absolute;left:1902px;top:722.5px;width:3px;height:3px;background:#0d0d0d"></div>
<div class="t" style="left:54.50px;top:67px;font-size:35.6px;letter-spacing:-2.0px;color:#b2b5be;">XRP</div>
<div class="t" style="left:134.25px;top:67px;font-size:35.6px;letter-spacing:0px;color:#b2b5be;">/</div>
<div class="t" style="left:154.50px;top:67px;font-size:35.6px;letter-spacing:0.75px;color:#b2b5be;">USDT,</div>
<div class="t" style="left:271.50px;top:67px;font-size:35.6px;letter-spacing:2.5px;color:#b2b5be;">4h,</div>
<div class="t" style="left:336.50px;top:67px;font-size:35.6px;letter-spacing:-0.708px;color:#b2b5be;">XRPUSDT</div>
<div class="t" style="left:522.00px;top:67px;font-size:35.6px;letter-spacing:2.3px;color:#089981;">1.3489</div>
<div class="t" style="left:662.75px;top:67px;font-size:35.6px;letter-spacing:1.95px;color:#089981;">0.0000</div>
<div class="t" style="left:794.25px;top:67px;font-size:35.6px;letter-spacing:1.417px;color:#089981;">(0.00%)</div>
<div class="t" style="left:55.50px;top:117px;font-size:35.6px;letter-spacing:1.1px;color:#b2b5be;">Volume</div>
<div class="t" style="left:1926.75px;top:85px;font-size:36.5px;letter-spacing:2.25px;color:#b2b5be;">1.5000</div>
<div class="t" style="left:1926.75px;top:240px;font-size:36.5px;letter-spacing:2.25px;color:#b2b5be;">1.4000</div>
<div class="t" style="left:1926.75px;top:395px;font-size:36.5px;letter-spacing:2.25px;color:#b2b5be;">1.3000</div>
<div class="t" style="left:1926.75px;top:549px;font-size:36.5px;letter-spacing:2.25px;color:#b2b5be;">1.2000</div>
<div class="t" style="left:70.00px;top:750px;font-size:35.5px;letter-spacing:2.625px;color:#b2b5be;font-weight:700;">Mar</div>
<div class="t" style="left:352.25px;top:750px;font-size:36px;letter-spacing:0px;color:#b2b5be;">8</div>
<div class="t" style="left:601.30px;top:750px;font-size:36px;letter-spacing:3.2px;color:#b2b5be;">15</div>
<div class="t" style="left:860.30px;top:750px;font-size:36px;letter-spacing:3.7px;color:#b2b5be;">22</div>
<div class="t" style="left:1219.00px;top:750px;font-size:35.5px;letter-spacing:1.5px;color:#b2b5be;font-weight:700;">Apr</div>
<div class="t" style="left:1500.50px;top:750px;font-size:36px;letter-spacing:0px;color:#b2b5be;">8</div>
<div class="t" style="left:1748.50px;top:750px;font-size:36px;letter-spacing:2.0px;color:#b2b5be;">15</div>
<div class="t" style="left:99.75px;top:837px;font-size:39.5px;letter-spacing:0.35px;color:#d1d4dc;">TradingView</div>
<svg style="position:absolute;left:30px;top:835.8px" width="59.6" height="46.4" viewBox="0 0 36 28"><path fill="#d1d4dc" d="M14 22H7V11H0V4h14v18zM28 22h-8l7.5-18h8L28 22z"/><circle fill="#d1d4dc" cx="20" cy="8" r="4"/></svg>
<div class="plabel"></div>
<div class="vlabel"></div>
<div class="t" style="left:1926.75px;top:319px;font-size:36px;letter-spacing:2.25px;color:#ffffff;">1.3489</div>
<div class="t" style="left:1926.75px;top:361px;font-size:36px;letter-spacing:2.0px;color:rgba(255,255,255,0.72);">01:55:00</div>
<div class="t" style="left:1925.75px;top:682px;font-size:36px;letter-spacing:1.708px;color:#ffffff;">9.558 M</div>
</body></html>
